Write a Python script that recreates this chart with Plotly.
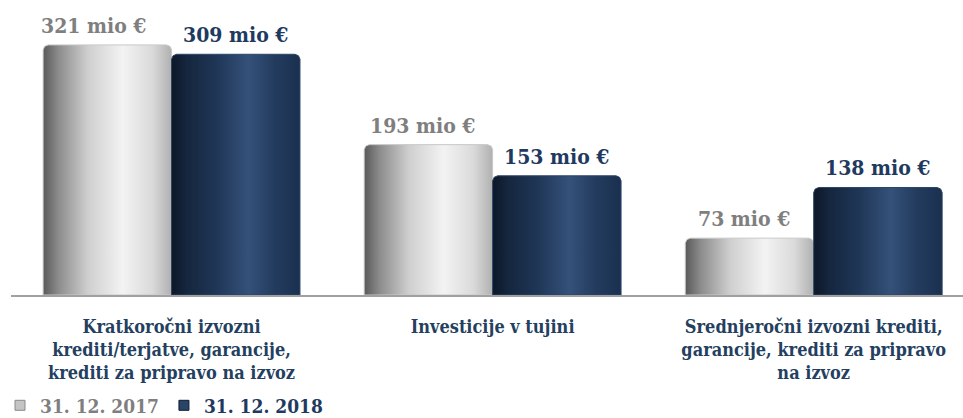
import plotly.graph_objects as go

# Data
categories = [
    "Kratkoročni izvozni<br>krediti/terjatve, garancije,<br>krediti za pripravo na izvoz",
    "Investicije v tujini",
    "Srednjeročni izvozni krediti,<br>garancije, krediti za pripravo<br>na izvoz",
]
series_names = ["31. 12. 2017", "31. 12. 2018"]
values_2017 = [321, 193, 73]
values_2018 = [309, 153, 138]
unit_suffix = " mio €"

FONT = "DejaVu Serif Condensed, DejaVu Serif, serif"
NAVY = "#243f60"
GREY_TXT = "#7f7f7f"

W, H = 963, 418
margin = dict(l=11, r=0, t=20, b=123)
x_range = [-0.5, 2.465]
y_range = [0, 353]
bar_w = 0.4  # width of one bar in category units

# pixel scale, used to round the bar tops by a few pixels
px_x = (W - margin["l"] - margin["r"]) / (x_range[1] - x_range[0])
px_y = (H - margin["t"] - margin["b"]) / (y_range[1] - y_range[0])
corner_px = 5

grey_scale = [[0, "#595959"], [0.12, "#8c8c8c"], [0.35, "#cfcfcf"],
              [0.62, "#f3f3f3"], [0.85, "#dadada"], [1, "#b0b0b0"]]
navy_scale = [[0, "#0d1727"], [0.12, "#15263e"], [0.35, "#1f3656"],
              [0.6, "#35517a"], [0.8, "#233c5e"], [1, "#1b304f"]]

# horizontal nudges (px) of the value labels, per series
label_xshift = {series_names[0]: [-13, -5, -5], series_names[1]: [0, 0, 0]}


def bar_outline(x0, x1, v):
    """Closed outline of a bar with slightly rounded top corners."""
    rx = corner_px / px_x
    ry = corner_px / px_y
    xs = [x0, x0, x0 + rx * 0.3, x0 + rx, x1 - rx, x1 - rx * 0.3, x1, x1, x0]
    ys = [0, v - ry, v - ry * 0.3, v, v, v - ry * 0.3, v - ry, 0, 0]
    return xs, ys


fig = go.Figure()
series = [
    (series_names[0], values_2017, -bar_w, grey_scale, GREY_TXT, "#c8c8c8", "#c4c4c4", "#8a8a8a"),
    (series_names[1], values_2018, 0.0, navy_scale, "#1f3a5f", "#2b4468", "#2a4468", "#0f1c30"),
]
for name, vals, offset, scale, txt_col, edge, key_fill, key_edge in series:
    for i, v in enumerate(vals):
        x0 = i + offset
        x1 = x0 + bar_w
        xs, ys = bar_outline(x0, x1, v)
        fig.add_trace(go.Scatter(
            x=xs, y=ys, mode="lines", fill="toself",
            line=dict(color=edge, width=1),
            fillgradient=dict(type="horizontal", colorscale=scale),
            name=name, legendgroup=name, showlegend=False,
            hoverinfo="skip",
        ))
        fig.add_annotation(
            x=(x0 + x1) / 2, y=v, text=f"<b>{v}{unit_suffix}</b>",
            showarrow=False, yanchor="bottom", yshift=5,
            xshift=label_xshift[name][i],
            font=dict(family=FONT, size=21, color=txt_col),
        )
    # legend key: small square swatch
    fig.add_trace(go.Scatter(
        x=[None], y=[None], mode="markers",
        marker=dict(symbol="square", size=10, color=key_fill,
                    line=dict(color=key_edge, width=1)),
        name=f"<b><span style='color:{txt_col}'>{name}</span></b>",
        legendgroup=name, showlegend=True, hoverinfo="skip",
    ))

fig.update_layout(
    width=W, height=H, margin=margin,
    paper_bgcolor="white", plot_bgcolor="white",
    font=dict(family=FONT, color=NAVY),
    xaxis=dict(
        range=x_range, tickmode="array", tickvals=[0, 1, 2],
        ticktext=[f"<b>{c}</b>" for c in categories],
        tickfont=dict(family=FONT, size=18, color=NAVY),
        ticklabelstandoff=14,
        showgrid=False, zeroline=False, showline=True,
        linecolor="#a0a0a0", linewidth=2, ticks="",
        fixedrange=True,
    ),
    yaxis=dict(range=y_range, visible=False, fixedrange=True),
    legend=dict(
        orientation="h", x=-0.021, xanchor="left",
        yref="container", y=0.03, yanchor="middle",
        font=dict(family=FONT, size=19), itemwidth=30,
        bgcolor="rgba(0,0,0,0)", traceorder="normal",
        tracegroupgap=0,
    ),
    showlegend=True,
)

fig.write_html("out.html")
